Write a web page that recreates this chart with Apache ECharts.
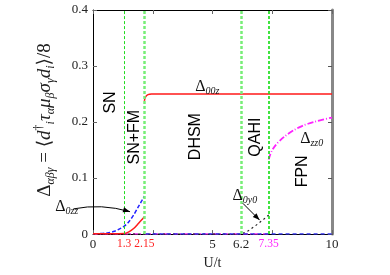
<!DOCTYPE html>
<html><head><meta charset="utf-8">
<script src="https://cdn.jsdelivr.net/npm/echarts@6/dist/echarts.min.js"></script>
<style>html,body{margin:0;padding:0;background:#fff}#c{width:390px;height:275px}</style>
</head><body><div id="c"></div>
<script>
// ---- data ----
const phaseBounds = [1.3, 2.15, 6.2, 7.35];
const xTickLabels = [0, 1.3, 2.15, 5, 6.2, 7.35, 10];
const yTickValues = [0, 0.1, 0.2, 0.3, 0.4];

const d00zLowU  = [0, 0.5, 1.0, 1.3, 1.5, 1.7, 1.9, 2.05, 2.15];
const d00zLowV  = [0.0005, 0.0006, 0.0008, 0.001, 0.004, 0.010, 0.019, 0.026, 0.031];
const d00zHighU = [2.15, 2.2, 2.3, 2.45, 3, 5, 7.35, 10];
const d00zHighV = [0.238, 0.245, 0.249, 0.25, 0.25, 0.25, 0.25, 0.25];

const d0zzU = [0.3, 0.6, 0.9, 1.1, 1.3, 1.5, 1.7, 1.9, 2.05, 2.15];
const d0zzV = [0.001, 0.002, 0.005, 0.009, 0.014, 0.022, 0.034, 0.049, 0.060, 0.068];
const d0zzTailU = [2.2, 10];
const d0zzTailV = [0, 0];

const d0y0U = [0, 6.2, 6.5, 6.8, 7.1, 7.35];
const d0y0V = [0, 0, 0.006, 0.015, 0.025, 0.034];

const dzz0ZeroU = [0, 7.35];
const dzz0ZeroV = [0, 0];
const dzz0U = [7.35, 7.5, 7.8, 8.2, 8.6, 9.0, 9.5, 10];
const dzz0V = [0.133, 0.150, 0.166, 0.180, 0.190, 0.197, 0.203, 0.208];

const phaseNames = ['SN', 'SN+FM', 'DHSM', 'QAHI', 'FPN'];

// ---- annotation placement (data coordinates) ----
const phaseLabelAt = [[0.72, 0.235], [1.72, 0.173], [4.3, 0.174], [6.8, 0.173], [8.76, 0.112]];

const zip = (a, b) => a.map((v, i) => [v, b[i]]);
const serif = '"Liberation Serif","DejaVu Serif",serif';
const sans = '"Liberation Sans",Arial,sans-serif';

const chart = echarts.init(document.getElementById('c'), null, {renderer: 'canvas'});

const labelColor = v => (v === 1.3 || v === 2.15) ? 'r' : (v === 7.35 ? 'm' : 'k');

const option = {
  animation: false,
  backgroundColor: '#fff',
  grid: {left: 93, right: 58, top: 10, bottom: 25},
  xAxis: [{
    type: 'value', min: 0, max: 10, interval: 2.5,
    name: 'U/t', nameLocation: 'middle', nameGap: 17,
    nameTextStyle: {fontFamily: serif, fontSize: 14, color: '#222'},
    axisLine: {onZero: false, lineStyle: {color: '#000', width: 1}},
    axisTick: {inside: true, length: 4, lineStyle: {color: '#666'}},
    splitLine: {show: false},
    axisLabel: {
      customValues: xTickLabels, margin: 4,
      formatter: v => '{' + labelColor(v) + '|' + v + '}',
      rich: {
        r: {color: '#ff2020', fontFamily: serif, fontSize: 11.5},
        m: {color: '#ff20ff', fontFamily: serif, fontSize: 11.5},
        k: {color: '#222', fontFamily: serif, fontSize: 13}
      }
    }
  }, {
    type: 'value', position: 'top', min: 0, max: 10, interval: 2.5,
    axisLine: {onZero: false, lineStyle: {color: '#000', width: 1}},
    axisTick: {inside: true, length: 4, lineStyle: {color: '#666'}},
    axisLabel: {show: false}, splitLine: {show: false}
  }],
  yAxis: [{
    type: 'value', position: 'left', min: 0, max: 0.4, interval: 0.1,
    axisLine: {show: true, onZero: false, lineStyle: {color: '#000', width: 1}},
    axisTick: {show: true, inside: true, length: 4, lineStyle: {color: '#666'}},
    splitLine: {show: false},
    axisLabel: {
      customValues: yTickValues, margin: 5,
      formatter: v => v === 0 ? '0' : v.toFixed(1),
      color: '#222', fontFamily: serif, fontSize: 13
    }
  }, {
    type: 'value', position: 'right', min: 0, max: 0.4, interval: 0.1,
    axisLine: {show: true, onZero: false, lineStyle: {color: '#888', width: 3}},
    axisTick: {show: true, inside: true, length: 4, lineStyle: {color: '#555'}},
    axisLabel: {show: false}, splitLine: {show: false}
  }],
  series: [
    {
      type: 'line', name: 'bounds', data: [], symbol: 'none',
      markLine: {
        silent: true, symbol: 'none', label: {show: false},
        data: [
          {xAxis: phaseBounds[0], lineStyle: {color: '#22dd22', width: 1, type: [3, 2]}},
          {xAxis: phaseBounds[1], lineStyle: {color: '#77ee77', width: 2.5, type: [3, 2]}},
          {xAxis: phaseBounds[2], lineStyle: {color: '#77ee77', width: 2.5, type: [3, 2]}},
          {xAxis: phaseBounds[3], lineStyle: {color: '#11dd11', width: 1.6, type: [3, 2]}}
        ]
      }
    },
    {type: 'line', data: zip(dzz0ZeroU, dzz0ZeroV), symbol: 'none', lineStyle: {color: '#ee22ee', width: 1.5, type: [5, 2, 1, 2]}},
    {type: 'line', data: zip(d0y0U, d0y0V), symbol: 'none', lineStyle: {color: '#222', width: 1.2, type: [2, 3]}},
    {type: 'line', data: zip(d0zzTailU, d0zzTailV), symbol: 'none', lineStyle: {color: '#3333ee', width: 1.5, type: [4, 3]}},
    {type: 'line', data: zip(d0zzU, d0zzV), symbol: 'none', smooth: 0.3, lineStyle: {color: '#2222ff', width: 1.5, type: [4, 2]}},
    {type: 'line', data: zip(d00zLowU, d00zLowV), symbol: 'none', smooth: 0.3, lineStyle: {color: '#ff1a1a', width: 1.5}},
    {type: 'line', data: zip(d00zHighU, d00zHighV), symbol: 'none', smooth: 0.4, lineStyle: {color: '#ff1a1a', width: 1.5}},
    {type: 'line', data: zip(dzz0U, dzz0V), symbol: 'none', smooth: 0.4, lineStyle: {color: '#ff22ff', width: 1.8, type: [6, 2, 1, 2]}}
  ]
};
chart.setOption(option);

// ---- annotations placed from data coordinates ----
const px = p => chart.convertToPixel({gridIndex: 0}, p);
const deltaRich = {
  d: {fontSize: 16, fontFamily: serif, fill: '#111', lineHeight: 19},
  s: {fontSize: 10, fontFamily: serif, fontStyle: 'italic', fill: '#111', verticalAlign: 'bottom', lineHeight: 12}
};
function deltaText(sub, at) {
  const p = px(at);
  return {type: 'text', x: p[0], y: p[1], z: 100,
    style: {text: '{d|Δ}{s|' + sub + '}', rich: deltaRich, align: 'center', verticalAlign: 'middle'}};
}
function arrowHead(tip, from) {
  const ang = Math.atan2(tip[1] - from[1], tip[0] - from[0]);
  const L = 7, W = 2.6;
  const bx = tip[0] - L * Math.cos(ang), by = tip[1] - L * Math.sin(ang);
  const nx = -Math.sin(ang) * W, ny = Math.cos(ang) * W;
  return {type: 'polygon', z: 100, shape: {points: [tip, [bx + nx, by + ny], [bx - nx, by - ny]]}, style: {fill: '#000'}};
}
const g = [];
// y-axis title (rotated, centred on the grid's vertical middle)
const yMid = px([0, 0.2]);
const titleRich = {
  d: {fontSize: 19, fontFamily: serif, fill: '#222', lineHeight: 24},
  t: {fontSize: 19, fontFamily: serif, fontStyle: 'italic', fill: '#222', lineHeight: 24},
  u: {fontSize: 19, fontFamily: serif, fill: '#222', lineHeight: 24},
  s: {fontSize: 12, fontFamily: serif, fontStyle: 'italic', fill: '#222', verticalAlign: 'bottom', lineHeight: 16},
  p: {fontSize: 12, fontFamily: serif, fill: '#222', verticalAlign: 'top', lineHeight: 16}
};
g.push({type: 'text', x: 45, y: yMid[1] - 2, rotation: Math.PI / 2, z: 100,
  style: {
    text: '{d|Δ}{s|αβγ}{u| = ⟨}{t|d}{p|†}{s|i}{t|τ}{s|α}{t|μ}{s|β}{t|σ}{s|γ}{t|d}{s|i}{u|⟩/8}',
    rich: titleRich, align: 'center', verticalAlign: 'middle'
  }});
phaseNames.forEach((n, i) => {
  const p = px(phaseLabelAt[i]);
  g.push({type: 'text', x: p[0], y: p[1], rotation: Math.PI / 2, z: 100,
    style: {text: n, fontFamily: sans, fontSize: 16, fill: '#000', align: 'center', verticalAlign: 'middle'}});
});
g.push(deltaText('00z', [4.78, 0.263]));
g.push(deltaText('zz0', [9.15, 0.170]));
g.push(deltaText('0y0', [6.35, 0.068]));
g.push(deltaText('0zz', [-1.1, 0.048]));

// arrow for Δ0zz (curved)
const a0 = px([-0.82, 0.045]), ac = px([0.35, 0.055]), a1 = px([1.55, 0.040]);
g.push({type: 'bezierCurve', z: 100, shape: {x1: a0[0], y1: a0[1], cpx1: ac[0], cpy1: ac[1], x2: a1[0], y2: a1[1]},
  style: {stroke: '#000', lineWidth: 1, fill: null}});
g.push(arrowHead(a1, ac));
// arrow for Δ0y0
const b0 = px([6.27, 0.055]), b1 = px([6.97, 0.025]);
g.push({type: 'line', z: 100, shape: {x1: b0[0], y1: b0[1], x2: b1[0], y2: b1[1]}, style: {stroke: '#000', lineWidth: 1}});
g.push(arrowHead(b1, b0));
chart.setOption({graphic: g});
</script>
</body></html>
